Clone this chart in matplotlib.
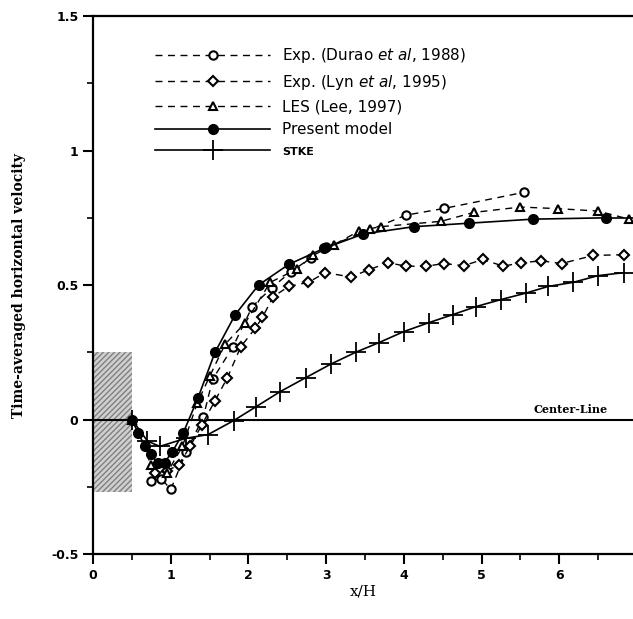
import matplotlib
matplotlib.use('Agg')
import matplotlib.pyplot as plt
from matplotlib.patches import Rectangle
from matplotlib.ticker import MultipleLocator

# ---- data ----
durao_x = [0.75, 0.88, 1.0, 1.2, 1.42, 1.54, 1.8, 2.05, 2.3, 2.55, 2.8, 3.0, 4.03, 4.52, 5.55]
durao_y = [-0.23, -0.22, -0.26, -0.12, 0.01, 0.15, 0.27, 0.42, 0.49, 0.55, 0.60, 0.64, 0.76, 0.785, 0.845]

lyn_x = [0.8, 0.95, 1.1, 1.25, 1.4, 1.57, 1.73, 1.9, 2.09, 2.18, 2.32, 2.52, 2.77, 2.99, 3.32,
         3.55, 3.8, 4.03, 4.28, 4.52, 4.77, 5.02, 5.28, 5.51, 5.77, 6.03, 6.44, 6.84]
lyn_y = [-0.2, -0.19, -0.17, -0.1, -0.02, 0.07, 0.156, 0.27, 0.34, 0.38, 0.457, 0.495, 0.51, 0.546, 0.53,
         0.557, 0.583, 0.57, 0.57, 0.58, 0.572, 0.595, 0.57, 0.583, 0.59, 0.58, 0.61, 0.613]

les_x = [0.5, 0.75, 0.95, 1.15, 1.34, 1.5, 1.7, 1.96, 2.28, 2.63, 2.83, 3.1, 3.42, 3.57, 3.7,
         4.48, 4.9, 5.5, 5.99, 6.5, 6.9]
les_y = [0.0, -0.17, -0.2, -0.1, 0.06, 0.16, 0.28, 0.36, 0.51, 0.56, 0.61, 0.65, 0.70, 0.71, 0.717,
         0.737, 0.77, 0.79, 0.784, 0.775, 0.745]

model_x = [0.5, 0.58, 0.67, 0.74, 0.83, 0.92, 1.02, 1.16, 1.35, 1.57, 1.83, 2.13, 2.52, 2.97,
           3.48, 4.13, 4.84, 5.66, 6.6, 6.95]
model_y = [0.0, -0.05, -0.1, -0.13, -0.16, -0.16, -0.12, -0.05, 0.08, 0.25, 0.39, 0.5, 0.577, 0.636,
           0.69, 0.717, 0.73, 0.745, 0.75, 0.75]

stke_x = [0.5, 0.7, 0.86, 1.19, 1.48, 1.81, 2.1, 2.41, 2.74, 3.06, 3.38, 3.68, 4.0, 4.32,
          4.63, 4.93, 5.25, 5.57, 5.86, 6.18, 6.5, 6.83]
stke_y = [0.0, -0.08, -0.1, -0.07, -0.056, -0.004, 0.048, 0.104, 0.156, 0.206, 0.25, 0.286, 0.327, 0.36,
          0.39, 0.42, 0.446, 0.47, 0.495, 0.51, 0.535, 0.546]

# ---- figure ----
fig = plt.figure(figsize=(6.33, 6.19), dpi=100)
ax = fig.add_axes([0.147, 0.105, 0.853, 0.869])

# shaded obstacle (hatched grey block)
ax.add_patch(Rectangle((0, -0.27), 0.5, 0.52, facecolor='#d0d0d0', edgecolor='#808080',
                       linewidth=0, hatch='//////', zorder=1))

# centre line
ax.axhline(0, color='k', lw=1.5, zorder=2)
ax.text(6.62, 0.025, 'Center-Line', family='serif', fontweight='bold', fontsize=8, ha='right')

ax.plot(durao_x, durao_y, color='k', ls=(0, (5, 4)), lw=1, marker='o', mfc='white',
        mec='k', ms=6, mew=1.5, label=r'Exp. (Durao $\it{et\ al}$, 1988)', zorder=4)
ax.plot(lyn_x, lyn_y, color='k', ls=(0, (5, 4)), lw=1, marker='D', mfc='white',
        mec='k', ms=5, mew=1.5, label=r'Exp. (Lyn $\it{et\ al}$, 1995)', zorder=4)
ax.plot(les_x, les_y, color='k', ls=(0, (5, 4)), lw=1, marker='^', mfc='white',
        mec='k', ms=6, mew=1.5, label='LES (Lee, 1997)', zorder=4)
ax.plot(model_x[:-1], model_y[:-1], color='k', ls='-', lw=1.2, marker='o', mfc='k',
        mec='k', ms=7, label='Present model', zorder=5)
ax.plot(model_x[-2:], model_y[-2:], color='k', ls='-', lw=1.2, zorder=5)
ax.plot(stke_x, stke_y, color='k', ls='-', lw=1.2, marker='+', ms=14, mew=1.3,
        label='STKE', zorder=3)

ax.set_xlim(0, 6.95)
ax.set_ylim(-0.5, 1.5)
ax.xaxis.set_major_locator(MultipleLocator(1))
ax.xaxis.set_minor_locator(MultipleLocator(0.5))
ax.yaxis.set_minor_locator(MultipleLocator(0.25))
ax.set_yticks([-0.5, 0, 0.5, 1, 1.5])
ax.set_yticklabels(['-0.5', '0', '0.5', '1', '1.5'])
ax.tick_params(which='major', direction='out', length=7, width=1.5, labelsize=9)
ax.tick_params(which='minor', direction='out', length=4, width=1.2)
for lab in ax.get_xticklabels() + ax.get_yticklabels():
    lab.set_fontweight('bold')

ax.spines['right'].set_visible(False)
for s in ['left', 'bottom', 'top']:
    ax.spines[s].set_linewidth(1.6)

ax.set_xlabel('x/H', family='serif', fontsize=11, labelpad=2)
ax.set_ylabel('Time-averaged horizontal velocity', family='serif', fontweight='bold',
              fontsize=10, labelpad=18)

leg = ax.legend(loc='upper left', bbox_to_anchor=(0.09, 0.97), frameon=False, fontsize=11,
                handlelength=7.5, labelspacing=0.5, handletextpad=0.8)
leg.get_texts()[-1].set_fontsize(8)
leg.get_texts()[-1].set_fontweight('bold')

fig.savefig('out.png', dpi=100)
